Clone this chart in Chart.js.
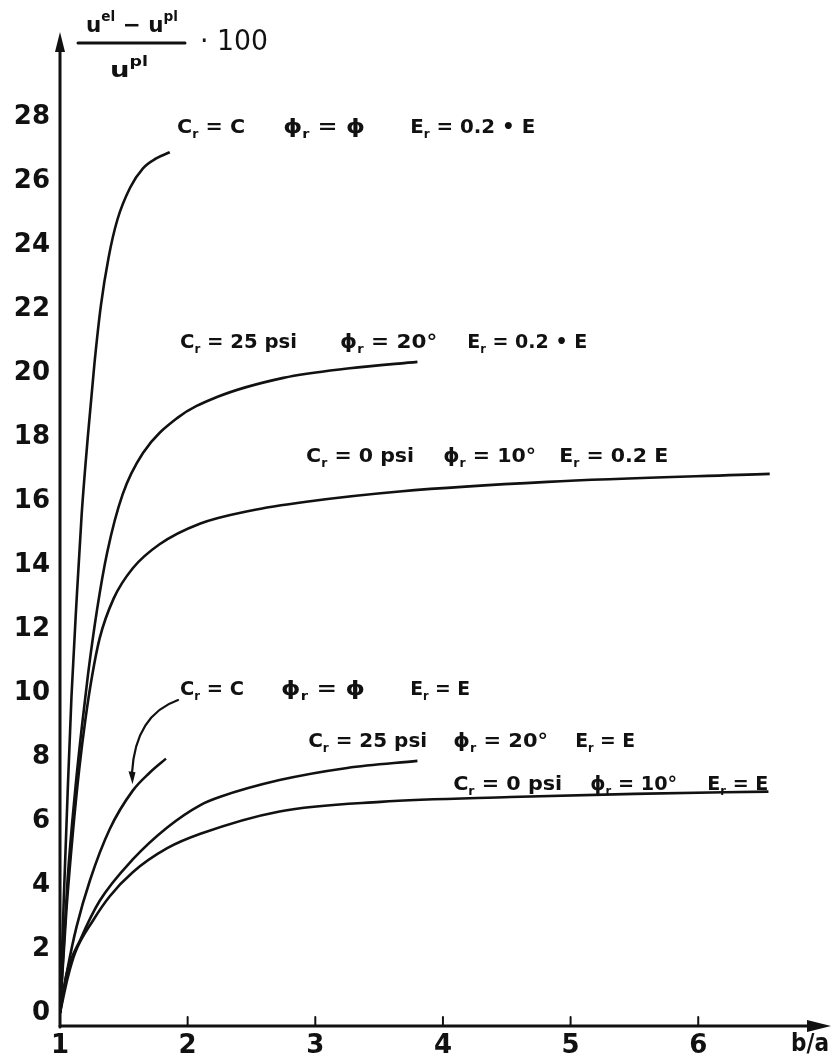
<!DOCTYPE html>
<html>
<head>
<meta charset="utf-8">
<title>Displacement difference vs b/a</title>
<script src="https://cdn.jsdelivr.net/npm/chart.js@4.4.0/dist/chart.umd.min.js"></script>
<style>
    html, body { margin: 0; padding: 0; background: #fff; }
    #wrap { width: 833px; height: 1061px; }
</style>
</head>
<body>
<div id="wrap"><canvas id="chart" width="833" height="1061"></canvas></div>
<script>
// axis ticks
const xTicks = [1, 2, 3, 4, 5, 6];
const yTicks = [0, 2, 4, 6, 8, 10, 12, 14, 16, 18, 20, 22, 24, 26, 28];

// Er = 0.2 E curves
const cC_02E_x = [1, 1.03, 1.06, 1.09, 1.13, 1.17, 1.22, 1.27, 1.32, 1.38, 1.45, 1.55, 1.65, 1.75, 1.86];
const cC_02E_y = [0, 3.6, 6.9, 9.9, 12.9, 15.6, 18.1, 20.3, 22.1, 23.6, 24.8, 25.8, 26.4, 26.7, 26.9];

const c25_02E_x = [1, 1.06, 1.12, 1.17, 1.22, 1.29, 1.37, 1.49, 1.65, 1.92, 2.23, 2.75, 3.27, 3.80];
const c25_02E_y = [0, 4.2, 7.0, 8.9, 10.6, 12.6, 14.4, 16.2, 17.5, 18.6, 19.25, 19.85, 20.15, 20.35];

const c0_02E_x = [1, 1.05, 1.10, 1.15, 1.20, 1.25, 1.31, 1.42, 1.57, 1.78, 2.10, 2.49, 2.93, 3.66, 4.82, 6.56];
const c0_02E_y = [0, 3.2, 5.6, 7.6, 9.2, 10.5, 11.7, 12.95, 13.9, 14.65, 15.3, 15.7, 15.98, 16.3, 16.6, 16.85];

// Er = E curves
const cC_E_x = [1, 1.06, 1.13, 1.235, 1.39, 1.57, 1.70, 1.83];
const cC_E_y = [0, 1.4, 2.7, 4.15, 5.75, 6.95, 7.5, 7.95];

const c25_E_x = [1, 1.05, 1.16, 1.31, 1.57, 1.84, 2.10, 2.25, 2.72, 3.25, 3.80];
const c25_E_y = [0, 1.2, 2.3, 3.5, 4.8, 5.8, 6.5, 6.75, 7.28, 7.66, 7.88];

const c0_E_x = [1, 1.06, 1.12, 1.26, 1.39, 1.57, 1.84, 2.10, 2.72, 3.51, 4.53, 5.5, 6.55];
const c0_E_y = [0, 1.1, 1.9, 2.9, 3.65, 4.4, 5.15, 5.6, 6.3, 6.6, 6.75, 6.85, 6.92];

const curves = [
    [cC_02E_x, cC_02E_y],
    [c25_02E_x, c25_02E_y],
    [c0_02E_x, c0_02E_y],
    [cC_E_x, cC_E_y],
    [c25_E_x, c25_E_y],
    [c0_E_x, c0_E_y]
];

const INK = '#111';
const FONT = '"DejaVu Sans", sans-serif';

// curve labels: y in data units, each group stretched between x0..x1 (data units)
// "_r" = subscript, "^el" = superscript
const notes = [
    { y: 27.66, groups: [[1.917, 2.450, 'C_r = C'], [2.748, 3.390, 'ϕ_r = ϕ'], [3.743, 4.723, 'E_r = 0.2 • E']] },
    { y: 20.94, groups: [[1.940, 2.857, 'C_r = 25 psi'], [3.194, 3.955, 'ϕ_r = 20°'], [4.190, 5.130, 'E_r = 0.2 • E']] },
    { y: 17.375, groups: [[2.928, 3.774, 'C_r = 0 psi'], [4.002, 4.730, 'ϕ_r = 10°'], [4.911, 5.765, 'E_r = 0.2 E']] },
    { y: 10.09, groups: [[1.940, 2.442, 'C_r = C'], [2.732, 3.390, 'ϕ_r = ϕ'], [3.743, 4.213, 'E_r = E']] },
    { y: 8.47, groups: [[2.944, 3.876, 'C_r = 25 psi'], [4.080, 4.824, 'ϕ_r = 20°'], [5.036, 5.506, 'E_r = E']] },
    { y: 7.125, groups: [[4.080, 4.934, 'C_r = 0 psi'], [5.154, 5.835, 'ϕ_r = 10°'], [6.071, 6.549, 'E_r = E']] }
];

function parseRuns(str) {
    const runs = [];
    const re = /([_^])([A-Za-z]+)|([^_^]+)/g;
    let m;
    while ((m = re.exec(str)) !== null) {
        if (m[1]) runs.push({ t: m[2], k: m[1] === '_' ? 'sub' : 'sup' });
        else runs.push({ t: m[3], k: '' });
    }
    return runs;
}

// draws text with sub/superscripts, optionally stretched to a target width
function drawRuns(ctx, str, x, y, size, weight, targetWidth) {
    const runs = parseRuns(str);
    const small = Math.round(size * 0.62);
    let total = 0;
    runs.forEach((r) => {
        ctx.font = weight + ' ' + (r.k ? small : size) + 'px ' + FONT;
        r.w = ctx.measureText(r.t).width;
        total += r.w;
    });
    const sx = targetWidth ? targetWidth / total : 1;
    ctx.save();
    ctx.translate(x, y);
    ctx.scale(sx, 1);
    ctx.textBaseline = 'middle';
    ctx.textAlign = 'left';
    ctx.fillStyle = INK;
    let cx = 0;
    runs.forEach((r) => {
        ctx.font = weight + ' ' + (r.k ? small : size) + 'px ' + FONT;
        const dy = r.k === 'sub' ? size * 0.32 : r.k === 'sup' ? -size * 0.38 : 0;
        ctx.fillText(r.t, cx, dy);
        cx += r.w;
    });
    ctx.restore();
    return total * sx;
}

const decorPlugin = {
    id: 'decor',
    afterDraw(chart) {
        const ctx = chart.ctx;
        const xs = chart.scales.x;
        const ys = chart.scales.y;
        const area = chart.chartArea;
        const x0 = xs.getPixelForValue(1);
        const yAxis = area.bottom;

        ctx.save();
        ctx.strokeStyle = INK;
        ctx.fillStyle = INK;
        ctx.lineCap = 'round';

        // y axis with arrow
        ctx.lineWidth = 3;
        ctx.beginPath();
        ctx.moveTo(x0, yAxis + 1);
        ctx.lineTo(x0, area.top + 14);
        ctx.stroke();
        ctx.beginPath();
        ctx.moveTo(x0, area.top);
        ctx.lineTo(x0 - 5, area.top + 20);
        ctx.lineTo(x0 + 5, area.top + 20);
        ctx.closePath();
        ctx.fill();

        // x axis with arrow
        ctx.beginPath();
        ctx.moveTo(x0, yAxis);
        ctx.lineTo(area.right - 16, yAxis);
        ctx.stroke();
        ctx.beginPath();
        ctx.moveTo(area.right, yAxis);
        ctx.lineTo(area.right - 24, yAxis - 6);
        ctx.lineTo(area.right - 24, yAxis + 6);
        ctx.closePath();
        ctx.fill();

        // small tick marks above the x axis
        ctx.lineWidth = 2;
        xTicks.slice(1).forEach((v) => {
            const px = xs.getPixelForValue(v);
            ctx.beginPath();
            ctx.moveTo(px, yAxis);
            ctx.lineTo(px, yAxis - 9);
            ctx.stroke();
        });

        // curved arrow pointing to the Cr = C, Er = E curve
        const a0 = [xs.getPixelForValue(1.925), ys.getPixelForValue(9.78)];
        const ac = [xs.getPixelForValue(1.59), ys.getPixelForValue(9.31)];
        const a1 = [xs.getPixelForValue(1.564), ys.getPixelForValue(7.5)];
        ctx.lineWidth = 2.2;
        ctx.beginPath();
        ctx.moveTo(a0[0], a0[1]);
        ctx.quadraticCurveTo(ac[0], ac[1], a1[0], a1[1]);
        ctx.stroke();
        const tipY = ys.getPixelForValue(7.15);
        ctx.beginPath();
        ctx.moveTo(a1[0] + 0.5, tipY);
        ctx.lineTo(a1[0] - 3.5, tipY - 13);
        ctx.lineTo(a1[0] + 3.5, tipY - 12);
        ctx.closePath();
        ctx.fill();

        // curve labels
        notes.forEach((n) => {
            const py = ys.getPixelForValue(n.y);
            n.groups.forEach(([g0, g1, str]) => {
                const p0 = xs.getPixelForValue(g0);
                const p1 = xs.getPixelForValue(g1);
                drawRuns(ctx, str, p0, py, 20, 'bold', p1 - p0);
            });
        });

        // y axis title: (u^el - u^pl) / u^pl * 100
        const L = area.left;
        const T = area.top;
        drawRuns(ctx, 'u^el − u^pl', L + 26, T - 6, 22, 'bold', 92);
        ctx.lineWidth = 3;
        ctx.beginPath();
        ctx.moveTo(L + 18, T + 11);
        ctx.lineTo(L + 125, T + 11);
        ctx.stroke();
        drawRuns(ctx, 'u^pl', L + 50, T + 39, 22, 'bold', 38);
        drawRuns(ctx, '· 100', L + 140, T + 11, 28, 'normal', 68);

        // x axis title
        drawRuns(ctx, 'b/a', area.right - 40, yAxis + 19, 24, 'bold', 38);

        ctx.restore();
    }
};

const datasets = curves.map(([xv, yv]) => ({
    data: xv.map((x, i) => ({ x: x, y: yv[i] })),
    borderColor: INK,
    borderWidth: 2.6,
    pointRadius: 0,
    fill: false,
    cubicInterpolationMode: 'monotone'
}));

const ctx = document.getElementById('chart').getContext('2d');
new Chart(ctx, {
    type: 'line',
    data: { datasets: datasets },
    options: {
        responsive: false,
        animation: false,
        layout: { padding: { top: 32, right: 2, left: 0, bottom: 0 } },
        scales: {
            x: {
                type: 'linear',
                min: 1,
                max: 7.04,
                afterBuildTicks: (scale) => {
                    scale.ticks = xTicks.map((v) => ({ value: v }));
                },
                afterFit: (scale) => {
                    scale.height = 35;
                },
                grid: { display: false, drawTicks: false },
                border: { display: false },
                ticks: {
                    padding: 5,
                    color: INK,
                    font: { family: FONT, size: 26, weight: 'bold' }
                }
            },
            y: {
                type: 'linear',
                min: -0.406,
                max: 30.66,
                afterBuildTicks: (scale) => {
                    scale.ticks = yTicks.map((v) => ({ value: v }));
                },
                afterFit: (scale) => {
                    scale.width = 60;
                },
                grid: { display: false, drawTicks: false },
                border: { display: false },
                ticks: {
                    padding: 10,
                    color: INK,
                    font: { family: FONT, size: 26, weight: 'bold' }
                }
            }
        },
        plugins: {
            legend: { display: false },
            tooltip: { enabled: false }
        }
    },
    plugins: [decorPlugin]
});
</script>
</body>
</html>
